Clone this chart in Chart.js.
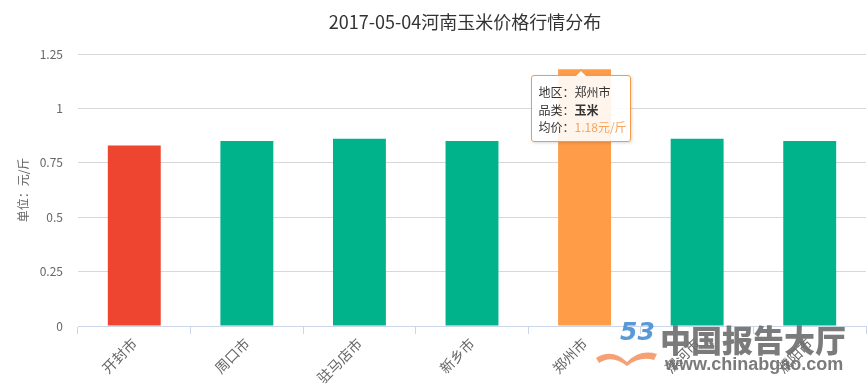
<!DOCTYPE html>
<html>
<head>
<meta charset="utf-8">
<script src="https://cdn.jsdelivr.net/npm/chart.js@4.4.1/dist/chart.umd.min.js"></script>
<style>
  html, body { margin: 0; padding: 0; background: #fff; }
  #wrap { position: relative; width: 867px; height: 390px; overflow: hidden; }
  canvas { display: block; }
  #tip {
    position: absolute; box-sizing: border-box; width: 100px; height: 67px;
    background: rgba(255,255,255,0.9); border: 1px solid #f79a46; border-radius: 3px;
    box-shadow: 1px 1px 3px rgba(0,0,0,0.15);
    font-family: "Noto Sans CJK SC", sans-serif; font-size: 12px; color: #333;
    padding: 7px 0 0 7px; line-height: 17.5px; white-space: nowrap; display: none;
  }
  #tip::before {
    content: ""; position: absolute; left: 50%; top: -7px; margin-left: -6px;
    border-left: 6px solid transparent; border-right: 6px solid transparent;
    border-bottom: 6px solid #f79a46;
  }
  #tip::after {
    content: ""; position: absolute; left: 50%; top: -5px; margin-left: -5px;
    border-left: 5px solid transparent; border-right: 5px solid transparent;
    border-bottom: 5px solid #fff;
  }
  #tip .v { color: #f7a35c; }
  #tip b { font-weight: bold; color: #333; }
  #wm { position: absolute; left: 596px; top: 318px; width: 271px; height: 70px; pointer-events: none; opacity: 0.92; }
  #wm .cn { position: absolute; left: 64px; top: 1px; font-family: "Noto Sans CJK SC", sans-serif; font-weight: 900; font-size: 31px; color: #707070; line-height: 40px; }
  #wm .url { position: absolute; left: 69px; top: 35px; font-family: "Liberation Sans", Arial, sans-serif; font-weight: bold; font-size: 18px; color: #707070; line-height: 22px; }
  #wm .logo { position: absolute; left: 24px; top: -2px; font-family: "DejaVu Sans", sans-serif; font-style: italic; font-weight: bold; font-size: 25px; color: #4a92d4; line-height: 32px; }
</style>
</head>
<body>
<div id="wrap">
  <canvas id="c" width="867" height="390"></canvas>
  <div id="tip"></div>
  <div id="wm">
    <span class="logo">53</span>
    <svg width="70" height="70" style="position:absolute;left:0;top:0">
      <path d="M0 40 Q16 30 31 44 Q44 31 61 36 L58 42 Q44 38 31 48 Q16 36 3 45 Z" fill="#f59a6a"/>
    </svg>
    <span class="cn">中国报告大厅</span>
    <span class="url">www.chinabgao.com</span>
  </div>
</div>
<script>
const titleText = "2017-05-04河南玉米价格行情分布";
const yAxisTitle = "单位：元/斤";
const categories = ["开封市", "周口市", "驻马店市", "新乡市", "郑州市", "漯河市", "濮阳市"];
const prices = [0.83, 0.85, 0.86, 0.85, 1.18, 0.86, 0.85];
const yTicks = [0, 0.25, 0.5, 0.75, 1, 1.25];
const productName = "玉米";
const unit = "元/斤";
const highlightIndex = 4;

const barColors = ["#ee4530", "#00b38a", "#00b38a", "#00b38a", "#fe9c48", "#00b38a", "#00b38a"];
const FONT = '"Noto Sans CJK SC", "Noto Sans", sans-serif';

const titlePlugin = {
  id: 'customTitle',
  afterDraw(chart) {
    const ctx = chart.ctx;
    ctx.save();
    ctx.font = '18px ' + FONT;
    ctx.fillStyle = '#333';
    ctx.textAlign = 'center';
    ctx.textBaseline = 'middle';
    ctx.fillText(titleText, 465, 22);
    ctx.restore();
  }
};

const tipPlugin = {
  id: 'tipPlugin',
  afterRender(chart) {
    const el = chart.getDatasetMeta(0).data[highlightIndex];
    const tip = document.getElementById('tip');
    tip.innerHTML = '地区：' + categories[highlightIndex] + '<br>品类：<b>' + productName +
      '</b><br>均价：<span class="v">' + prices[highlightIndex] + unit + '</span>';
    tip.style.display = 'block';
    tip.style.left = (el.x - 50 - 4) + 'px';
    tip.style.top = (el.y + 6) + 'px';
  }
};

new Chart(document.getElementById('c'), {
  type: 'bar',
  data: {
    labels: categories,
    datasets: [{
      data: prices,
      backgroundColor: barColors,
      borderWidth: 0,
      barPercentage: 0.47,
      categoryPercentage: 1.0
    }]
  },
  options: {
    responsive: false,
    animation: false,
    events: [],
    layout: { padding: { top: 54, right: 1, left: 0, bottom: 0 } },
    plugins: {
      legend: { display: false },
      title: { display: false },
      tooltip: { enabled: false }
    },
    scales: {
      x: {
        grid: { display: true, drawOnChartArea: false, drawTicks: true, tickLength: 8, color: '#ccd6eb', offset: true },
        border: { display: true, color: '#ccd6eb' },
        ticks: {
          color: '#666', font: { family: FONT, size: 14 },
          maxRotation: 45, minRotation: 45, autoSkip: false, padding: 1
        },
        afterFit(scale) { scale.height = 64; }
      },
      y: {
        min: 0, max: 1.25,
        afterBuildTicks(scale) { scale.ticks = yTicks.map(v => ({ value: v })); },
        grid: { color: '#d8d8d8', drawTicks: false },
        border: { display: false },
        ticks: {
          color: '#666', font: { family: FONT, size: 12 }, padding: 15,
          callback: (v) => String(v)
        },
        title: {
          display: true, text: yAxisTitle, color: '#666',
          font: { family: FONT, size: 12 }, padding: { top: 16, bottom: 0 }
        },
        afterFit(scale) { scale.width = 78; }
      }
    }
  },
  plugins: [titlePlugin, tipPlugin]
});
</script>
</body>
</html>
